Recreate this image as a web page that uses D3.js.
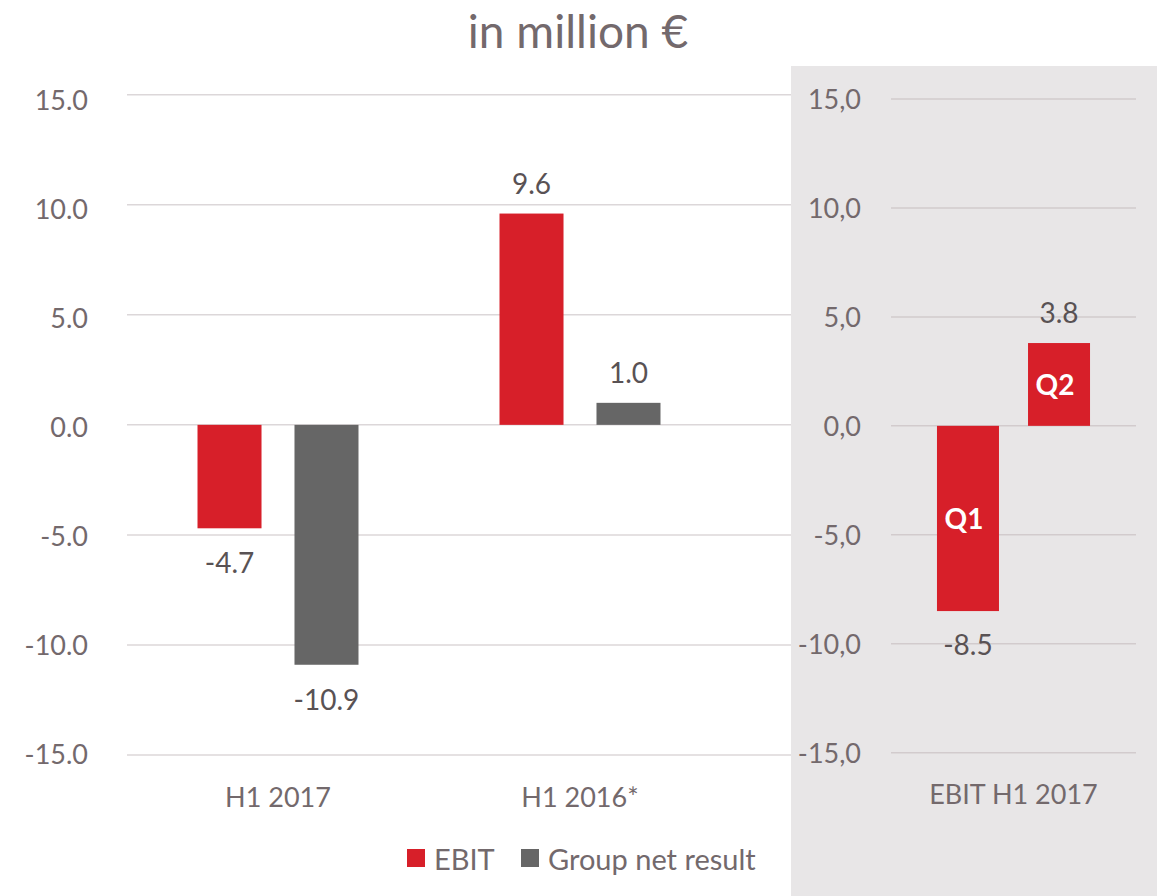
<!DOCTYPE html>
<html>
<head>
<meta charset="utf-8">
<script src="https://cdn.jsdelivr.net/npm/d3@7"></script>
<style>
    html, body { margin: 0; padding: 0; background: #fff; }
    svg { display: block; font-family: Lato, "Open Sans", sans-serif; }
</style>
</head>
<body>
<div id="chart"></div>
<script>
// Values
const categories = ["H1 2017", "H1 2016*"];
const seriesNames = ["EBIT", "Group net result"];
const ebitValues = [-4.7, 9.6];
const netResultValues = [-10.9, 1.0];
const quarters = ["Q1", "Q2"];
const quarterEbit = [-8.5, 3.8];
const quarterCategory = "EBIT H1 2017";
const yTicks = [15, 10, 5, 0, -5, -10, -15];

const colors = {EBIT: "#d71f29", "Group net result": "#666666"};
const textColor = "#73696c";
const labelColor = "#595254";
const gridColor = "#dcd7d9";

const width = 1157;
const height = 896;

const svg = d3.select("#chart")
    .append("svg")
    .attr("width", width)
    .attr("height", height)
    .attr("viewBox", `0 0 ${width} ${height}`);

// Shaded panel on the right
svg.append("rect")
    .attr("x", 791)
    .attr("y", 66)
    .attr("width", width - 791)
    .attr("height", height - 66)
    .attr("fill", "#e8e6e7");

// Title
svg.append("text")
    .attr("x", 578)
    .attr("y", 30)
    .attr("text-anchor", "middle")
    .attr("dominant-baseline", "central")
    .attr("fill", textColor)
    .style("font-size", "46px")
    .text("in million €");

// ---------- Left chart ----------
const data = categories.map((c, i) => ({
    category: c,
    values: [
        {key: seriesNames[0], value: ebitValues[i]},
        {key: seriesNames[1], value: netResultValues[i]}
    ]
}));

const y = d3.scaleLinear()
    .domain([-15, 15])
    .range([755, 94.7]);

// tick labels sit a little off the gridlines in the original
const yLabel = d3.scaleLinear()
    .domain([-15, 15])
    .range([754.5, 101]);

const x0 = d3.scaleBand()
    .domain(categories)
    .range([127, 731]);

const x1 = d3.scaleBand()
    .domain(seriesNames)
    .range([0, x0.bandwidth()])
    .paddingInner(0.34)
    .paddingOuter(0.727);

// gridlines
svg.append("g")
    .selectAll("line")
    .data(yTicks)
    .enter().append("line")
    .attr("x1", 127)
    .attr("x2", 791)
    .attr("y1", d => y(d))
    .attr("y2", d => y(d))
    .attr("stroke", gridColor)
    .attr("stroke-width", 1.5);

// Y axis
svg.append("g")
    .attr("transform", "translate(88,0)")
    .call(d3.axisLeft(yLabel).tickValues(yTicks).tickSize(0).tickPadding(0).tickFormat(d => d.toFixed(1)))
    .call(g => g.select(".domain").remove())
    .selectAll("text")
    .attr("fill", textColor)
    .style("font-family", "Lato, sans-serif")
    .style("font-size", "27px");

// X axis labels
svg.append("g")
    .attr("transform", "translate(0,796)")
    .call(d3.axisBottom(x0).tickSize(0).tickPadding(0))
    .call(g => g.select(".domain").remove())
    .selectAll("text")
    .attr("dy", null)
    .attr("dominant-baseline", "central")
    .attr("fill", textColor)
    .style("font-family", "Lato, sans-serif")
    .style("font-size", "27px");

const groups = svg.selectAll(".group")
    .data(data)
    .enter().append("g")
    .attr("class", "group")
    .attr("transform", d => `translate(${x0(d.category)},0)`);

groups.selectAll("rect")
    .data(d => d.values)
    .enter().append("rect")
    .attr("x", d => x1(d.key))
    .attr("width", x1.bandwidth())
    .attr("y", d => y(Math.max(0, d.value)))
    .attr("height", d => Math.abs(y(d.value) - y(0)))
    .attr("fill", d => colors[d.key]);

groups.selectAll(".value")
    .data(d => d.values)
    .enter().append("text")
    .attr("class", "value")
    .attr("x", d => x1(d.key) + x1.bandwidth() / 2)
    .attr("y", d => d.value >= 0 ? y(d.value) - 31 : y(d.value) + 34)
    .attr("text-anchor", "middle")
    .attr("dominant-baseline", "central")
    .attr("fill", labelColor)
    .style("font-size", "28px")
    .text(d => d.value.toFixed(1));

// Legend
const legend = svg.append("g")
    .attr("transform", "translate(407,858)");

const legendItems = legend.selectAll("g")
    .data(seriesNames)
    .enter().append("g")
    .attr("transform", (d, i) => `translate(${i * 114},0)`);

legendItems.append("rect")
    .attr("x", 0)
    .attr("y", -9)
    .attr("width", 18)
    .attr("height", 18)
    .attr("fill", d => colors[d]);

legendItems.append("text")
    .attr("x", 27)
    .attr("y", 0)
    .attr("dominant-baseline", "central")
    .attr("fill", textColor)
    .style("font-size", "29px")
    .text(d => d);

// ---------- Right chart (quarters) ----------
const yR = d3.scaleLinear()
    .domain([-15, 15])
    .range([752.7, 99]);

const xR = d3.scaleBand()
    .domain(quarters)
    .range([891, 1136])
    .paddingInner(0.319)
    .paddingOuter(0.505);

svg.append("g")
    .selectAll("line")
    .data(yTicks)
    .enter().append("line")
    .attr("x1", 891)
    .attr("x2", 1136)
    .attr("y1", d => yR(d))
    .attr("y2", d => yR(d))
    .attr("stroke", "#d2cbcd")
    .attr("stroke-width", 1.5);

svg.append("g")
    .attr("transform", "translate(861,1)")
    .call(d3.axisLeft(yR).tickValues(yTicks).tickSize(0).tickPadding(0)
        .tickFormat(d => d.toFixed(1).replace(".", ",")))
    .call(g => g.select(".domain").remove())
    .selectAll("text")
    .attr("fill", textColor)
    .style("font-family", "Lato, sans-serif")
    .style("font-size", "27px");

svg.append("text")
    .attr("x", (891 + 1136) / 2)
    .attr("y", 793)
    .attr("text-anchor", "middle")
    .attr("dominant-baseline", "central")
    .attr("fill", textColor)
    .style("font-size", "27px")
    .text(quarterCategory);

const qData = quarters.map((q, i) => ({key: q, value: quarterEbit[i]}));

svg.selectAll(".qbar")
    .data(qData)
    .enter().append("rect")
    .attr("class", "qbar")
    .attr("x", d => xR(d.key))
    .attr("width", xR.bandwidth())
    .attr("y", d => yR(Math.max(0, d.value)))
    .attr("height", d => Math.abs(yR(d.value) - yR(0)))
    .attr("fill", colors.EBIT);

svg.selectAll(".qname")
    .data(qData)
    .enter().append("text")
    .attr("class", "qname")
    .attr("x", d => xR(d.key) + xR.bandwidth() / 2 - 4)
    .attr("y", d => (yR(d.value) + yR(0)) / 2)
    .attr("text-anchor", "middle")
    .attr("dominant-baseline", "central")
    .attr("fill", "#ffffff")
    .style("font-size", "28px")
    .style("font-weight", "bold")
    .text(d => d.key);

svg.selectAll(".qvalue")
    .data(qData)
    .enter().append("text")
    .attr("class", "qvalue")
    .attr("x", d => xR(d.key) + xR.bandwidth() / 2)
    .attr("y", d => d.value >= 0 ? yR(d.value) - 31 : yR(d.value) + 33)
    .attr("text-anchor", "middle")
    .attr("dominant-baseline", "central")
    .attr("fill", labelColor)
    .style("font-size", "28px")
    .text(d => d.value.toFixed(1));
</script>
</body>
</html>
